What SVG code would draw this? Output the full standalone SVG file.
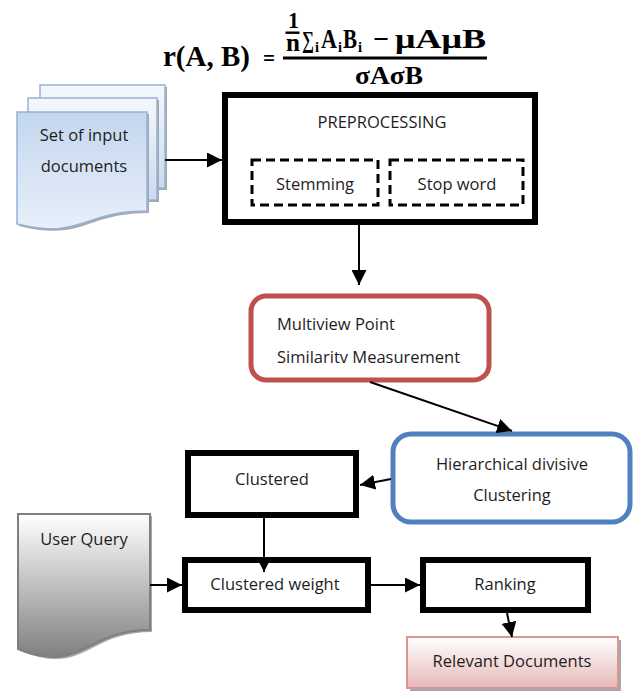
<svg xmlns="http://www.w3.org/2000/svg" width="639" height="694" viewBox="0 0 639 694">
<defs>
<style>
.lbl{font-family:"Open Sans","Liberation Sans",sans-serif;font-size:16.5px;fill:#1e1e1e}
.c{text-anchor:middle}
.box{fill:#fff;stroke:#000;stroke-width:6}
.dash{fill:none;stroke:#000;stroke-width:3;stroke-dasharray:9 5}
.conn{stroke:#000;stroke-width:2;fill:none}
.fx{font-family:"Liberation Serif","DejaVu Serif",serif;font-weight:bold;fill:#000}
.shadow{fill:#a8a8a8}
</style>
<linearGradient id="gBlue" x1="0" y1="0" x2="0" y2="1">
<stop offset="0" stop-color="#c3d6ee"/>
<stop offset="1" stop-color="#e8f0fa"/>
</linearGradient>
<linearGradient id="gBlueB" x1="0" y1="0" x2="0" y2="1">
<stop offset="0" stop-color="#f4f8fd"/>
<stop offset="1" stop-color="#c9daf0"/>
</linearGradient>
<linearGradient id="gGray" x1="0" y1="0" x2="0" y2="1">
<stop offset="0" stop-color="#ffffff"/>
<stop offset="1" stop-color="#808080"/>
</linearGradient>
<linearGradient id="gPink" x1="0" y1="0" x2="0" y2="1">
<stop offset="0" stop-color="#ffffff"/>
<stop offset="1" stop-color="#e6b8b7"/>
</linearGradient>
<marker id="ah" viewBox="0 0 10 10" refX="10" refY="5" markerWidth="15" markerHeight="15" markerUnits="userSpaceOnUse" orient="auto">
<path d="M0,0 L10,5 L0,10 Z" fill="#000"/>
</marker>
<marker id="ahs" viewBox="0 0 10 10" refX="10" refY="5" markerWidth="11" markerHeight="11" markerUnits="userSpaceOnUse" orient="auto">
<path d="M0,0 L10,5 L0,10 Z" fill="#000"/>
</marker>
</defs>
<rect width="639" height="694" fill="#fff"/>

<g id="formula">
<text class="fx" x="163" y="66" font-size="29" textLength="87" lengthAdjust="spacingAndGlyphs">r(A, B)</text>
<text class="fx" x="263" y="66" font-size="24" font-weight="normal" textLength="12" lengthAdjust="spacingAndGlyphs">=</text>
<text class="fx" x="288" y="28" font-size="24" textLength="11" lengthAdjust="spacingAndGlyphs">1</text>
<rect x="285.5" y="31.5" width="14" height="2.4" fill="#000"/>
<text class="fx" x="286" y="51" font-size="25" textLength="14" lengthAdjust="spacingAndGlyphs">n</text>
<text class="fx" x="302" y="48" font-size="24" font-weight="normal" textLength="12" lengthAdjust="spacingAndGlyphs">∑</text>
<text class="fx" x="315" y="52" font-size="15" textLength="4" lengthAdjust="spacingAndGlyphs">i</text>
<text class="fx" x="321" y="48" font-size="27" textLength="16" lengthAdjust="spacingAndGlyphs">A</text>
<text class="fx" x="338" y="52" font-size="15" textLength="4" lengthAdjust="spacingAndGlyphs">i</text>
<text class="fx" x="343" y="48" font-size="27" textLength="14" lengthAdjust="spacingAndGlyphs">B</text>
<text class="fx" x="358" y="52" font-size="15" textLength="4" lengthAdjust="spacingAndGlyphs">i</text>
<text class="fx" x="373" y="48" font-size="27" textLength="16" lengthAdjust="spacingAndGlyphs">−</text>
<text class="fx" x="395" y="48" font-size="27" textLength="91" lengthAdjust="spacingAndGlyphs">μAμB</text>
<rect x="283" y="56.5" width="204" height="3" fill="#000"/>
<text class="fx" x="355" y="84" font-size="26" textLength="68" lengthAdjust="spacingAndGlyphs">σAσB</text>
</g>

<g id="input-documents">
<rect class="shadow" x="42" y="87" width="125" height="103"/>
<rect x="40" y="85" width="125" height="103" fill="url(#gBlueB)" stroke="#95b3d7" stroke-width="1.5"/>
<rect class="shadow" x="30" y="100" width="129" height="102"/>
<rect x="28" y="98" width="129" height="102" fill="url(#gBlueB)" stroke="#95b3d7" stroke-width="1.5"/>
<path class="shadow" d="M19,114 H149 V213 C84,213 84,242 19,226 Z"/>
<path d="M17,112 H147 V211 C82,211 82,240 17,224 Z" fill="url(#gBlue)" stroke="#95b3d7" stroke-width="1.5"/>
<text class="lbl c" x="84" y="141">Set of input</text>
<text class="lbl c" x="84" y="172">documents</text>
</g>

<g id="preprocessing">
<rect class="box" x="225" y="95" width="310" height="127"/>
<text class="lbl c" x="382" y="128">PREPROCESSING</text>
</g>
<g id="stemming">
<rect class="dash" x="252" y="160" width="126" height="45"/>
<text class="lbl c" x="315" y="190">Stemming</text>
</g>
<g id="stop-word">
<rect class="dash" x="390" y="160" width="133" height="45"/>
<text class="lbl c" x="457" y="190">Stop word</text>
</g>

<g id="multiview">
<rect x="251" y="296" width="238" height="84" rx="15" fill="#fff" stroke="#c0504d" stroke-width="5"/>
<text class="lbl" x="277" y="330">Multiview Point</text>
<text class="lbl" x="277" y="363">Similaritv Measurement</text>
</g>

<g id="hierarchical">
<rect x="393" y="434" width="237" height="88" rx="18" fill="#fff" stroke="#4f81bd" stroke-width="5"/>
<text class="lbl c" x="512" y="470">Hierarchical divisive</text>
<text class="lbl c" x="512" y="501">Clustering</text>
</g>

<g id="clustered">
<rect class="box" x="188" y="453" width="168" height="62"/>
<text class="lbl c" x="272" y="485">Clustered</text>
</g>

<g id="user-query">
<path class="shadow" d="M20,516 H152 V632 C86,632 86,677 20,651 Z"/>
<path d="M18,514 H150 V630 C84,630 84,675 18,649 Z" fill="url(#gGray)" stroke="#7f7f7f" stroke-width="2"/>
<text class="lbl c" x="84" y="545">User Query</text>
</g>

<g id="clustered-weight">
<rect class="box" x="185" y="560" width="183" height="50"/>
<text class="lbl c" x="275" y="590">Clustered weight</text>
</g>

<g id="ranking">
<rect class="box" x="423" y="560" width="165" height="50"/>
<text class="lbl c" x="505" y="590">Ranking</text>
</g>

<g id="relevant-documents">
<rect class="shadow" x="410" y="640" width="211" height="51"/>
<rect x="407" y="637" width="211" height="51" fill="url(#gPink)" stroke="#d99694" stroke-width="2"/>
<text class="lbl c" x="512" y="667">Relevant Documents</text>
</g>

<g id="connectors">
<line class="conn" x1="165" y1="160" x2="222" y2="160" marker-end="url(#ah)"/>
<line class="conn" x1="359" y1="225" x2="359" y2="285" marker-end="url(#ah)"/>
<line class="conn" x1="370" y1="382" x2="512" y2="431" marker-end="url(#ah)"/>
<line class="conn" x1="391" y1="479" x2="360" y2="485" marker-end="url(#ah)"/>
<line class="conn" x1="264" y1="518" x2="264" y2="572" marker-end="url(#ahs)"/>
<line class="conn" x1="150" y1="585" x2="182" y2="585" marker-end="url(#ah)"/>
<line class="conn" x1="371" y1="585" x2="420" y2="585" marker-end="url(#ah)"/>
<line class="conn" x1="507" y1="613" x2="512" y2="637" marker-end="url(#ah)"/>
</g>
</svg>
